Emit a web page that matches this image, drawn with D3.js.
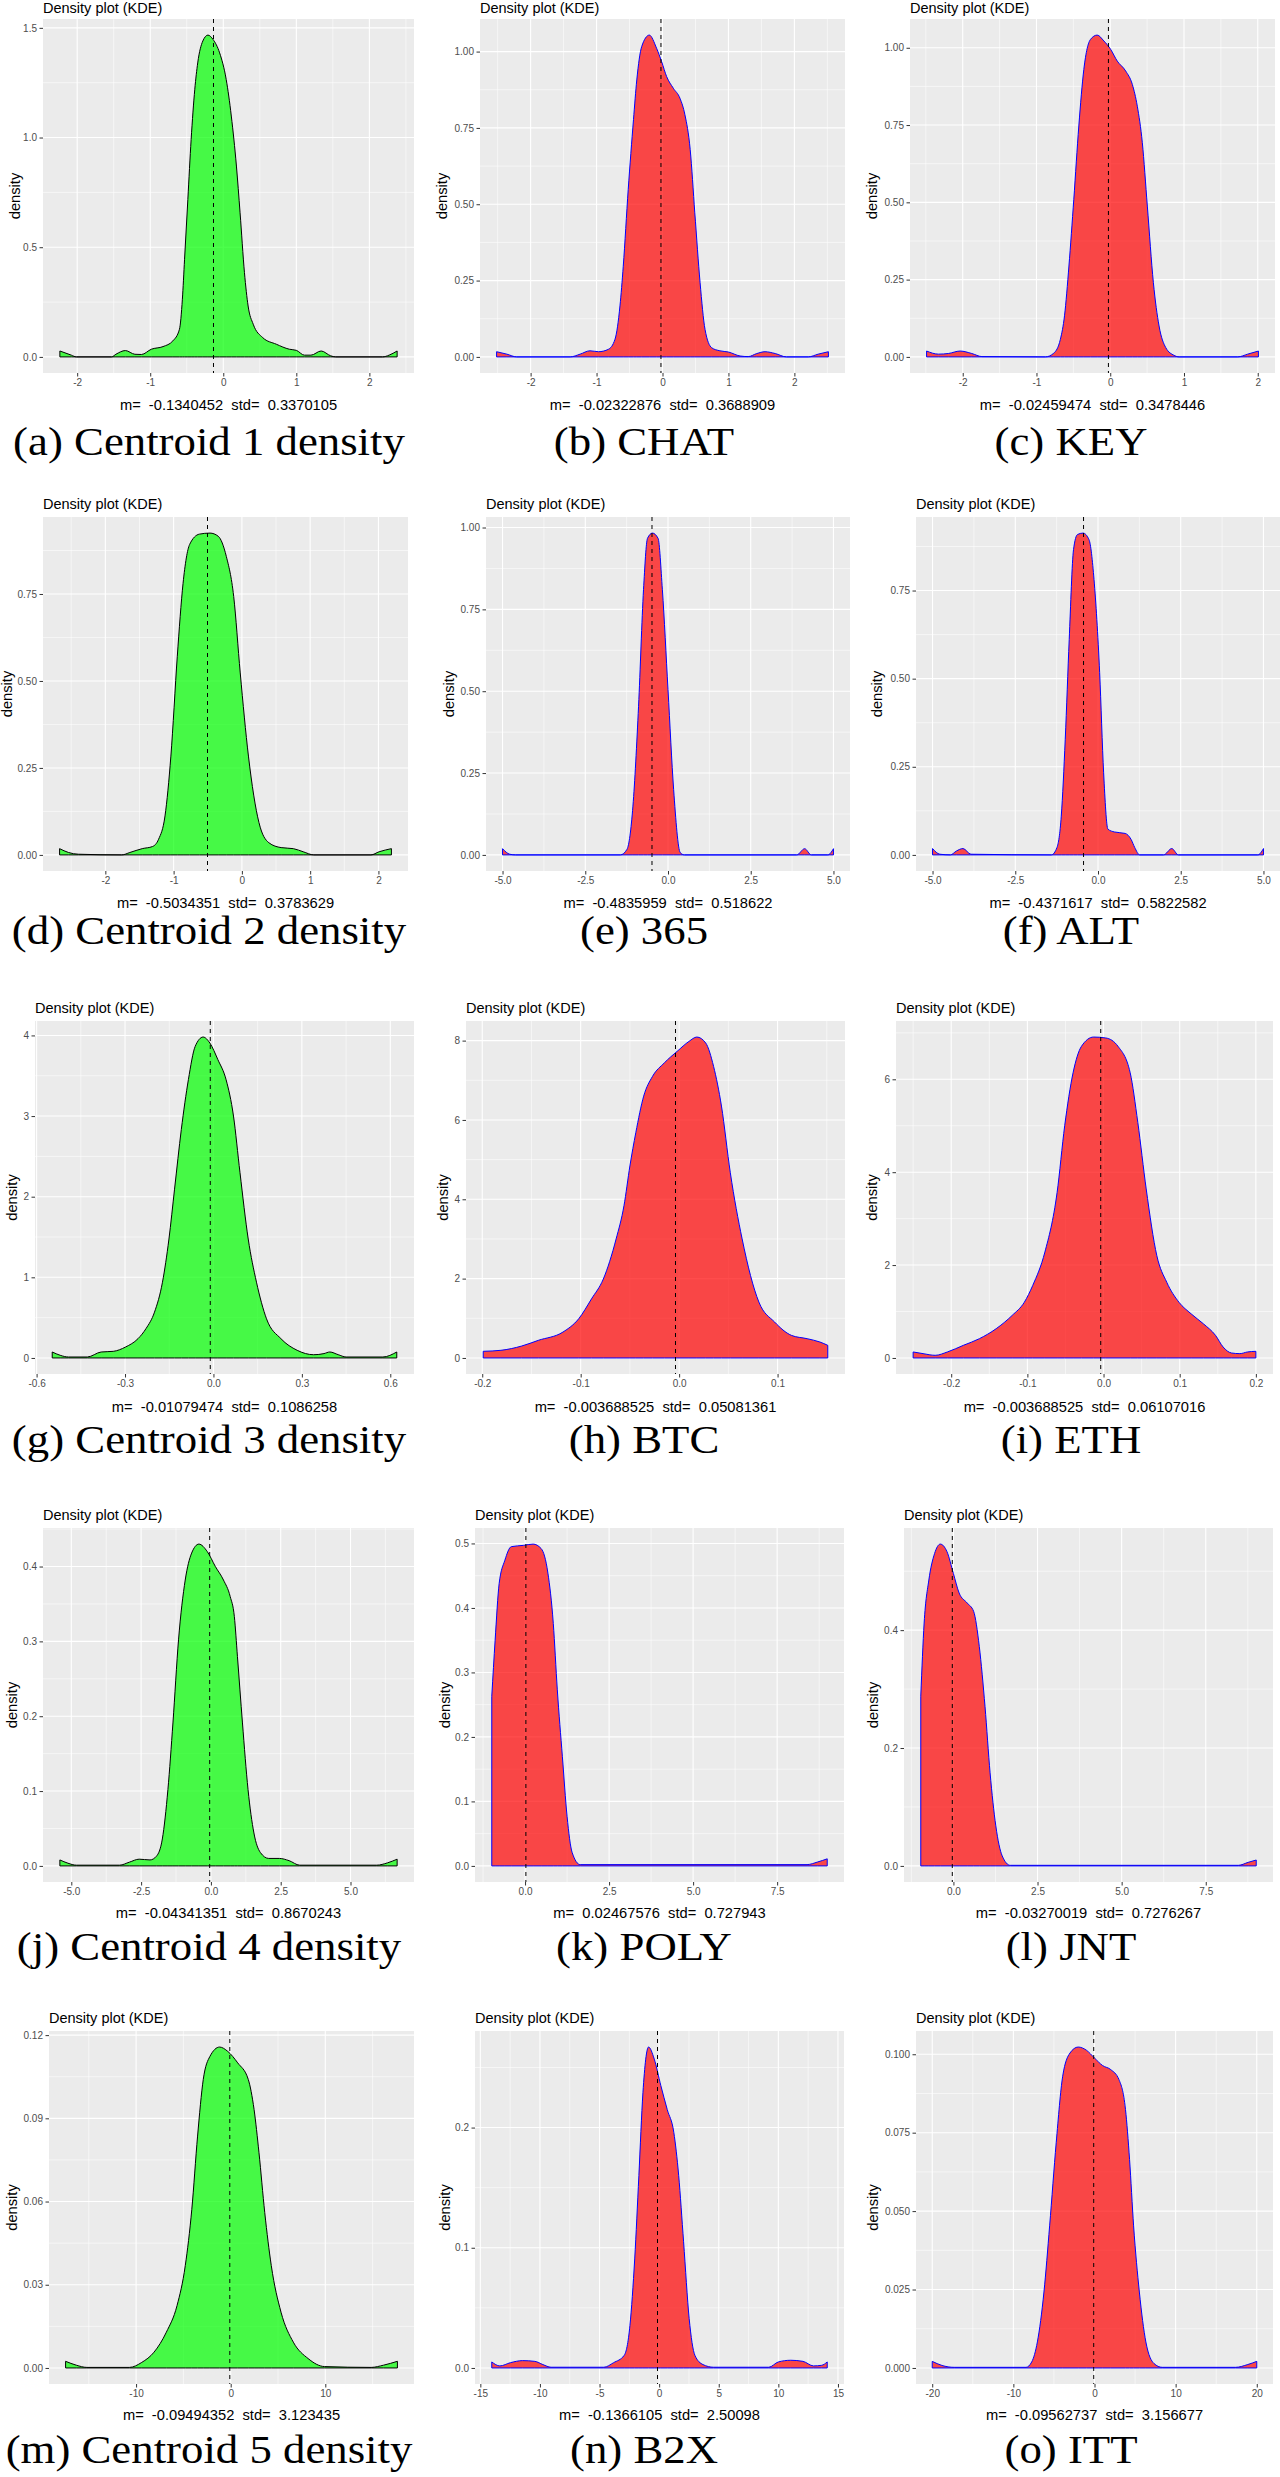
<!DOCTYPE html>
<html>
<head>
<meta charset="utf-8">
<script src="https://cdn.jsdelivr.net/npm/d3@7"></script>
<style>
  html, body { margin: 0; padding: 0; background: #ffffff; }
  svg { display: block; }
  text { font-family: "Liberation Sans", Arial, sans-serif; }
</style>
</head>
<body>
<script>
// ---------------- DATA ----------------
const panelIds = ["a","b","c","d","e","f","g","h","i","j","k","l","m","n","o"];
const captions = ["(a) Centroid 1 density","(b) CHAT","(c) KEY",
                  "(d) Centroid 2 density","(e) 365","(f) ALT",
                  "(g) Centroid 3 density","(h) BTC","(i) ETH",
                  "(j) Centroid 4 density","(k) POLY","(l) JNT",
                  "(m) Centroid 5 density","(n) B2X","(o) ITT"];
const panelKind = ["centroid","coin","coin","centroid","coin","coin","centroid","coin","coin",
                   "centroid","coin","coin","centroid","coin","coin"];
const meanText = ["-0.1340452","-0.02322876","-0.02459474","-0.5034351","-0.4835959","-0.4371617",
                  "-0.01079474","-0.003688525","-0.003688525","-0.04341351","0.02467576","-0.03270019",
                  "-0.09494352","-0.1366105","-0.09562737"];
const stdText = ["0.3370105","0.3688909","0.3478446","0.3783629","0.518622","0.5822582",
                 "0.1086258","0.05081361","0.06107016","0.8670243","0.727943","0.7276267",
                 "3.123435","2.50098","3.156677"];

const xTicks = [
  [-2,-1,0,1,2],[-2,-1,0,1,2],[-2,-1,0,1,2],
  [-2,-1,0,1,2],[-5,-2.5,0,2.5,5],[-5,-2.5,0,2.5,5],
  [-0.6,-0.3,0,0.3,0.6],[-0.2,-0.1,0,0.1],[-0.2,-0.1,0,0.1,0.2],
  [-5,-2.5,0,2.5,5],[0,2.5,5,7.5],[0,2.5,5,7.5],
  [-10,0,10],[-15,-10,-5,0,5,10,15],[-20,-10,0,10,20]];
const xTickLabels = [
  ["-2","-1","0","1","2"],["-2","-1","0","1","2"],["-2","-1","0","1","2"],
  ["-2","-1","0","1","2"],["-5.0","-2.5","0.0","2.5","5.0"],["-5.0","-2.5","0.0","2.5","5.0"],
  ["-0.6","-0.3","0.0","0.3","0.6"],["-0.2","-0.1","0.0","0.1"],["-0.2","-0.1","0.0","0.1","0.2"],
  ["-5.0","-2.5","0.0","2.5","5.0"],["0.0","2.5","5.0","7.5"],["0.0","2.5","5.0","7.5"],
  ["-10","0","10"],["-15","-10","-5","0","5","10","15"],["-20","-10","0","10","20"]];
const yTicks = [
  [0,0.5,1,1.5],[0,0.25,0.5,0.75,1],[0,0.25,0.5,0.75,1],
  [0,0.25,0.5,0.75],[0,0.25,0.5,0.75,1],[0,0.25,0.5,0.75],
  [0,1,2,3,4],[0,2,4,6,8],[0,2,4,6],
  [0,0.1,0.2,0.3,0.4],[0,0.1,0.2,0.3,0.4,0.5],[0,0.2,0.4],
  [0,0.03,0.06,0.09,0.12],[0,0.1,0.2],[0,0.025,0.05,0.075,0.1]];
const yTickLabels = [
  ["0.0","0.5","1.0","1.5"],["0.00","0.25","0.50","0.75","1.00"],["0.00","0.25","0.50","0.75","1.00"],
  ["0.00","0.25","0.50","0.75"],["0.00","0.25","0.50","0.75","1.00"],["0.00","0.25","0.50","0.75"],
  ["0","1","2","3","4"],["0","2","4","6","8"],["0","2","4","6"],
  ["0.0","0.1","0.2","0.3","0.4"],["0.0","0.1","0.2","0.3","0.4","0.5"],["0.0","0.2","0.4"],
  ["0.00","0.03","0.06","0.09","0.12"],["0.0","0.1","0.2"],["0.000","0.025","0.050","0.075","0.100"]];

// density curves: [x, density]
const densityA = [[-2.237,0.027],[-2.08,0.008],[-2.01,0],[-1.53,0],[-1.47,0.012],[-1.34,0.029],[-1.21,0.012],[-1.12,0.011],[-0.985,0.035],[-0.825,0.047],[-0.69,0.073],[-0.6,0.126],[-0.56,0.263],[-0.53,0.445],[-0.485,0.718],[-0.44,0.991],[-0.39,1.22],[-0.35,1.34],[-0.28,1.44],[-0.21,1.467],[-0.14,1.447],[-0.05,1.386],[0.04,1.265],[0.11,1.098],[0.18,0.87],[0.23,0.657],[0.29,0.384],[0.34,0.232],[0.41,0.149],[0.54,0.088],[0.725,0.058],[0.905,0.035],[1.0,0.03],[1.11,0.008],[1.2,0.008],[1.34,0.027],[1.47,0.005],[1.54,0],[2.18,0],[2.27,0.008],[2.38,0.027]];
const densityB = [[-2.516,0.017],[-2.36,0.009],[-2.21,0],[-1.40,0],[-1.25,0.009],[-1.10,0.02],[-0.97,0.017],[-0.82,0.025],[-0.72,0.058],[-0.645,0.167],[-0.595,0.297],[-0.52,0.548],[-0.44,0.777],[-0.39,0.907],[-0.316,1.016],[-0.2,1.054],[-0.09,1.011],[-0.013,0.967],[0.063,0.918],[0.164,0.88],[0.265,0.847],[0.34,0.793],[0.42,0.679],[0.49,0.472],[0.57,0.243],[0.645,0.09],[0.746,0.03],[0.87,0.02],[1.0,0.016],[1.176,0.003],[1.30,0.001],[1.43,0.011],[1.555,0.017],[1.71,0.011],[1.88,0],[2.21,0],[2.36,0.009],[2.516,0.017]];
const densityC = [[-2.49,0.019],[-2.33,0.009],[-2.195,0.011],[-2.036,0.019],[-1.877,0.011],[-1.74,0.001],[-0.88,0],[-0.766,0.012],[-0.676,0.057],[-0.62,0.133],[-0.56,0.294],[-0.494,0.51],[-0.426,0.747],[-0.358,0.93],[-0.268,1.027],[-0.177,1.041],[-0.086,1.022],[0.005,0.995],[0.095,0.957],[0.209,0.925],[0.3,0.881],[0.367,0.811],[0.435,0.693],[0.503,0.488],[0.585,0.24],[0.662,0.1],[0.753,0.03],[0.866,0.005],[0.934,0],[1.73,0],[1.864,0.009],[2.009,0.019]];
const densityD = [[-2.67,0.018],[-2.54,0.007],[-2.395,0.002],[-1.76,0],[-1.64,0.007],[-1.46,0.018],[-1.31,0.024],[-1.22,0.045],[-1.126,0.112],[-1.04,0.284],[-0.946,0.571],[-0.862,0.78],[-0.766,0.892],[-0.623,0.922],[-0.467,0.925],[-0.347,0.916],[-0.228,0.858],[-0.12,0.743],[-0.024,0.523],[0.096,0.284],[0.25,0.093],[0.395,0.035],[0.575,0.021],[0.754,0.018],[0.898,0.009],[1.054,0],[1.89,0],[2.01,0.009],[2.19,0.018]];
const densityE = [[-5.0,0.019],[-4.78,0.002],[-4.6,0],[-1.44,0],[-1.24,0.017],[-1.06,0.149],[-0.89,0.454],[-0.74,0.81],[-0.62,0.967],[-0.47,0.983],[-0.3,0.967],[-0.17,0.81],[0.0,0.505],[0.17,0.2],[0.37,0.007],[0.5,0],[3.89,0],[4.13,0.019],[4.33,0],[4.83,0],[5.0,0.019]];
const densityF = [[-5.0,0.018],[-4.78,0.002],[-4.46,0],[-4.28,0.011],[-4.08,0.018],[-3.84,0.002],[-1.41,0],[-1.24,0.021],[-1.11,0.11],[-0.99,0.328],[-0.87,0.611],[-0.74,0.866],[-0.62,0.909],[-0.45,0.913],[-0.27,0.894],[-0.12,0.781],[0.05,0.517],[0.17,0.233],[0.3,0.073],[0.5,0.065],[0.82,0.061],[1.0,0.044],[1.11,0.021],[1.26,0],[1.98,0],[2.23,0.018],[2.43,0],[4.83,0],[5.0,0.018]];
const densityG = [[-0.547,0.074],[-0.52,0.033],[-0.492,0.012],[-0.428,0.012],[-0.381,0.074],[-0.34,0.082],[-0.298,0.136],[-0.256,0.239],[-0.229,0.363],[-0.2,0.568],[-0.173,0.939],[-0.151,1.475],[-0.132,2.093],[-0.109,2.834],[-0.085,3.452],[-0.062,3.864],[-0.035,3.98],[-0.012,3.905],[0.015,3.7],[0.043,3.45],[0.068,3.0],[0.09,2.3],[0.118,1.475],[0.146,0.94],[0.18,0.486],[0.229,0.239],[0.284,0.095],[0.34,0.04],[0.375,0.054],[0.395,0.074],[0.423,0.041],[0.45,0.012],[0.575,0.012],[0.622,0.074]];
const densityH = [[-0.199,0.168],[-0.181,0.193],[-0.16,0.3],[-0.143,0.444],[-0.118,0.653],[-0.102,0.988],[-0.089,1.49],[-0.077,1.99],[-0.064,3.0],[-0.056,3.84],[-0.05,4.84],[-0.044,5.68],[-0.036,6.6],[-0.027,7.1],[-0.015,7.44],[-0.002,7.73],[0.010,7.98],[0.018,8.09],[0.027,7.94],[0.035,7.35],[0.043,6.35],[0.052,4.67],[0.064,3.0],[0.081,1.41],[0.097,0.905],[0.114,0.57],[0.13,0.486],[0.143,0.402],[0.151,0.318]];
const densityI = [[-0.25,0.129],[-0.237,0.093],[-0.221,0.057],[-0.205,0.129],[-0.184,0.272],[-0.163,0.415],[-0.141,0.63],[-0.12,0.916],[-0.104,1.2],[-0.093,1.56],[-0.077,2.28],[-0.061,3.56],[-0.051,5.0],[-0.04,6.14],[-0.029,6.71],[-0.013,6.91],[0.003,6.89],[0.019,6.71],[0.035,6.14],[0.045,5.07],[0.056,3.64],[0.07,2.2],[0.083,1.63],[0.099,1.2],[0.115,0.95],[0.131,0.737],[0.147,0.487],[0.157,0.236],[0.168,0.107],[0.179,0.093],[0.189,0.129],[0.2,0.143]];
const densityJ = [[-5.41,0.008],[-5.12,0.0036],[-4.82,0.001],[-3.27,0.001],[-2.92,0.005],[-2.57,0.009],[-2.18,0.008],[-1.95,0.013],[-1.74,0.036],[-1.54,0.102],[-1.36,0.191],[-1.16,0.302],[-0.92,0.382],[-0.69,0.418],[-0.43,0.43],[-0.13,0.42],[0.16,0.4],[0.45,0.382],[0.69,0.36],[0.84,0.333],[0.95,0.28],[1.13,0.191],[1.33,0.102],[1.54,0.044],[1.77,0.018],[2.07,0.01],[2.45,0.01],[2.8,0.007],[3.18,0.001],[5.94,0.001],[6.32,0.004],[6.67,0.009]];
const densityK = [[-0.99,0.263],[-0.89,0.35],[-0.77,0.438],[-0.6,0.474],[-0.41,0.495],[-0.05,0.497],[0.24,0.499],[0.48,0.492],[0.68,0.454],[0.84,0.376],[0.96,0.273],[1.11,0.17],[1.25,0.077],[1.4,0.021],[1.64,0.002],[8.39,0.002],[8.7,0.006],[8.99,0.011]];
const densityL = [[-0.97,0.288],[-0.87,0.412],[-0.73,0.485],[-0.56,0.53],[-0.39,0.546],[-0.19,0.533],[0.0,0.496],[0.17,0.463],[0.41,0.446],[0.6,0.432],[0.77,0.372],[0.94,0.27],[1.09,0.158],[1.26,0.068],[1.45,0.017],[1.69,0.001],[8.47,0.001],[8.76,0.006],[9.0,0.01]];
const densityM = [[-17.45,0.0024],[-16.32,0.001],[-15.2,0.0002],[-10.7,0.0002],[-9.4,0.002],[-8.1,0.0057],[-6.8,0.0129],[-5.67,0.0225],[-4.8,0.0369],[-4.11,0.0572],[-3.5,0.0836],[-2.9,0.104],[-2.2,0.1123],[-1.17,0.1157],[-0.3,0.1141],[0.74,0.11],[1.86,0.104],[2.47,0.0932],[2.99,0.0776],[3.6,0.056],[4.29,0.0369],[5.32,0.0201],[6.62,0.0093],[8.18,0.0034],[9.91,0.0005],[14.85,0.0002],[16.15,0.001],[17.62,0.0024]];
const densityN = [[-14.04,0.005],[-13.36,0.0017],[-12.47,0.0044],[-11.45,0.0061],[-10.43,0.0055],[-9.75,0.0028],[-9.07,0.0006],[-4.64,0.0006],[-3.82,0.0044],[-2.93,0.0105],[-2.45,0.0354],[-2.05,0.0907],[-1.7,0.16],[-1.36,0.229],[-0.89,0.267],[-0.41,0.257],[0.14,0.235],[0.68,0.215],[1.23,0.196],[1.64,0.16],[2.05,0.105],[2.52,0.041],[3.0,0.0105],[3.68,0.0028],[4.57,0.0006],[9.2,0.0006],[10.0,0.005],[11.04,0.0064],[12.06,0.0055],[12.95,0.0017],[13.63,0.0022],[14.1,0.005]];
const densityO = [[-20.0,0.0021],[-18.8,0.0008],[-17.29,0.0002],[-8.44,0.0002],[-7.74,0.0019],[-7.04,0.0083],[-6.23,0.0242],[-5.53,0.0453],[-4.72,0.0718],[-3.92,0.093],[-3.02,0.1004],[-2.01,0.1023],[-1.0,0.1013],[0.0,0.0988],[1.0,0.0964],[2.01,0.0951],[3.02,0.0919],[3.82,0.0824],[4.32,0.0665],[4.82,0.0453],[5.53,0.0242],[6.33,0.0083],[7.34,0.0014],[8.34,0.0002],[17.39,0.0002],[18.9,0.0011],[20.0,0.0021]];
const densities = [densityA,densityB,densityC,densityD,densityE,densityF,densityG,densityH,densityI,
                   densityJ,densityK,densityL,densityM,densityN,densityO];

// ---------------- LAYOUT / STYLE ----------------
const panelLeft  = [43,480,910, 43,486,916, 35,466,896, 43,475,904, 49,475,916];
const panelRight = [414,845,1275, 408,850,1280, 414,845,1273, 414,844,1273, 414,844,1273];
const ylabX      = [15,442,872, 7,449,877, 12,443,872, 12,445,873, 12,445,873];
const rowTop     = [19,517,1021,1528,2031];
const rowBottom  = [373,871,1374,1882,2384];
const titleBase  = [13,509,1013,1520,2023];
const statBase   = [410,908,1412,1918,2420];
const capBase    = [455,944,1453,1960,2463];
const colCenter  = [209,644,1071];
const kindStyle = {
  centroid: {fill:"#00FF00", stroke:"#000000"},
  coin:     {fill:"#FF0000", stroke:"#0000FF"}
};

const svg = d3.select("body").append("svg")
  .attr("width",1280).attr("height",2477)
  .attr("viewBox","0 0 1280 2477");

svg.append("rect").attr("width",1280).attr("height",2477).attr("fill","#fff");

function minors(ticks, domain){
  const step = ticks[1]-ticks[0];
  const out = [];
  for (let v = ticks[0]-step/2; v <= ticks[ticks.length-1]+step/2+1e-9; v += step){
    if (v >= domain[0] && v <= domain[1]) out.push(v);
  }
  return out;
}

densities.forEach((data, i) => {
  const row = Math.floor(i/3), col = i % 3;
  const left = panelLeft[i], right = panelRight[i];
  const top = rowTop[row], bottom = rowBottom[row];
  const st = kindStyle[panelKind[i]];

  const xe = d3.extent(data, d => d[0]);
  const xp = (xe[1]-xe[0])*0.05;
  const x = d3.scaleLinear().domain([xe[0]-xp, xe[1]+xp]).range([left, right]);
  const ymax = d3.max(data, d => d[1]);
  const y = d3.scaleLinear().domain([-ymax*0.05, ymax*1.05]).range([bottom, top]);

  const g = svg.append("g").attr("class","panel-"+panelIds[i]);

  // panel background
  g.append("rect").attr("x",left).attr("y",top)
    .attr("width",right-left).attr("height",bottom-top).attr("fill","#EBEBEB");

  const grid = g.append("g");
  // minor grid
  minors(xTicks[i], x.domain()).forEach(v => {
    grid.append("line").attr("x1",x(v)).attr("x2",x(v)).attr("y1",top).attr("y2",bottom)
      .attr("stroke","#fff").attr("stroke-width",0.55);
  });
  minors(yTicks[i], y.domain()).forEach(v => {
    grid.append("line").attr("y1",y(v)).attr("y2",y(v)).attr("x1",left).attr("x2",right)
      .attr("stroke","#fff").attr("stroke-width",0.55);
  });
  // major grid
  xTicks[i].forEach(v => {
    grid.append("line").attr("x1",x(v)).attr("x2",x(v)).attr("y1",top).attr("y2",bottom)
      .attr("stroke","#fff").attr("stroke-width",1.1);
  });
  yTicks[i].forEach(v => {
    grid.append("line").attr("y1",y(v)).attr("y2",y(v)).attr("x1",left).attr("x2",right)
      .attr("stroke","#fff").attr("stroke-width",1.1);
  });

  // density area
  const area = d3.area().x(d => x(d[0])).y0(y(0)).y1(d => y(d[1])).curve(d3.curveMonotoneX);
  g.append("path").datum(data).attr("d", area)
    .attr("fill", st.fill).attr("fill-opacity", 0.7)
    .attr("stroke", st.stroke).attr("stroke-width", 1).attr("stroke-linejoin","round");

  // mean line
  const m = +meanText[i];
  g.append("line").attr("x1",x(m)).attr("x2",x(m)).attr("y1",top).attr("y2",bottom)
    .attr("stroke","#000").attr("stroke-width",1).attr("stroke-dasharray","4,4");

  // axes
  const xa = g.append("g").attr("transform",`translate(0,${bottom})`)
    .call(d3.axisBottom(x).tickValues(xTicks[i]).tickFormat((d,j)=>xTickLabels[i][j])
      .tickSize(3.5).tickPadding(2.5));
  const ya = g.append("g").attr("transform",`translate(${left},0)`)
    .call(d3.axisLeft(y).tickValues(yTicks[i]).tickFormat((d,j)=>yTickLabels[i][j])
      .tickSize(3.5).tickPadding(2.5));
  [xa, ya].forEach(a => {
    a.select(".domain").remove();
    a.selectAll(".tick line").attr("stroke","#333333").attr("stroke-width",1);
    a.selectAll(".tick text").attr("fill","#4D4D4D")
      .style("font-family",'"Liberation Sans", Arial, sans-serif').style("font-size","10px");
  });

  // title
  g.append("text").attr("x",left).attr("y",titleBase[row])
    .style("font-size","14.5px").attr("fill","#000").text("Density plot (KDE)");

  // y label
  g.append("text").attr("transform",`translate(${ylabX[i]+5},${(top+bottom)/2}) rotate(-90)`)
    .attr("text-anchor","middle").style("font-size","14.7px").attr("fill","#000").text("density");

  // stats (x-axis title)
  g.append("text").attr("x",(left+right)/2).attr("y",statBase[row])
    .attr("text-anchor","middle").style("font-size","14.7px").style("white-space","pre")
    .attr("fill","#000")
    .text("m=  " + meanText[i] + "  std=  " + stdText[i]);

  // caption
  const cx = colCenter[col], cy = capBase[row];
  g.append("text")
    .attr("transform",`translate(${cx},${cy}) scale(1.12,1)`)
    .attr("text-anchor","middle")
    .style("font-family",'"Liberation Serif", "Times New Roman", serif')
    .style("font-size","40px").attr("fill","#000")
    .text(captions[i]);
});
</script>
</body>
</html>
